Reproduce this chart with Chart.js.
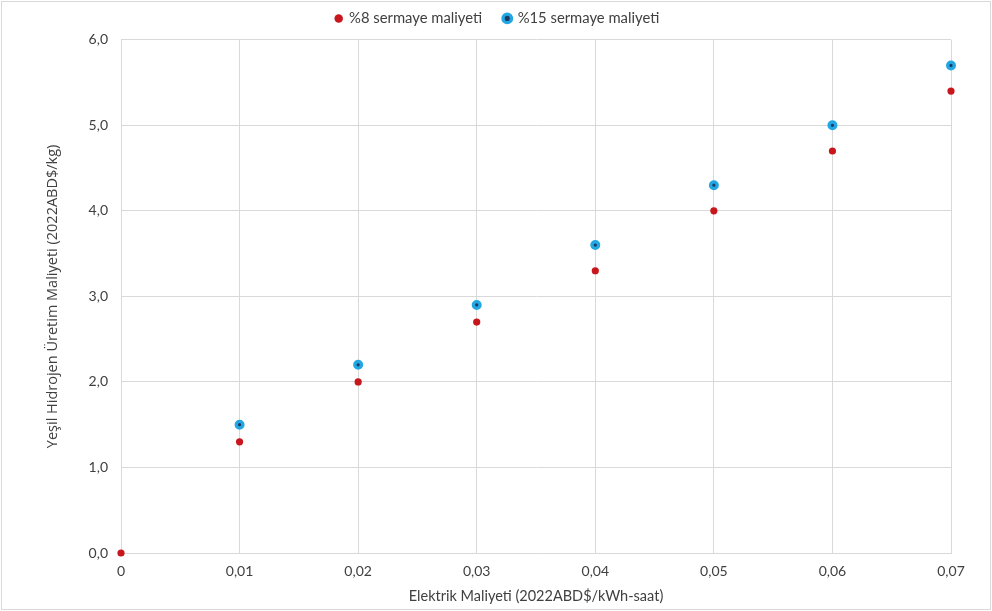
<!DOCTYPE html>
<html>
<head>
<meta charset="utf-8">
<script src="https://cdn.jsdelivr.net/npm/chart.js@4.4.0/dist/chart.umd.min.js"></script>
<style>
html,body{margin:0;padding:0;background:#fff;}
#wrap{width:992px;height:611px;position:relative;}
</style>
</head>
<body>
<div id="wrap"><canvas id="c" width="992" height="611"></canvas></div>
<script>
const xValues = [0, 0.01, 0.02, 0.03, 0.04, 0.05, 0.06, 0.07];
const xTickLabels = ["0", "0,01", "0,02", "0,03", "0,04", "0,05", "0,06", "0,07"];
const series8 = [0, 1.3, 2.0, 2.7, 3.3, 4.0, 4.7, 5.4];
const series15 = [null, 1.5, 2.2, 2.9, 3.6, 4.3, 5.0, 5.7];
const seriesNames = ["%8 sermaye maliyeti", "%15 sermaye maliyeti"];
const yTickLabels = ["0,0", "1,0", "2,0", "3,0", "4,0", "5,0", "6,0"];
const xTitle = "Elektrik Maliyeti (2022ABD$/kWh-saat)";
const yTitle = "Yeşil Hidrojen Üretim Maliyeti (2022ABD$/kg)";

const toPts = (arr) => xValues.map((x, i) => ({x: x, y: arr[i]})).filter(p => p.y !== null);

const frame = {
  id: 'frame',
  afterDraw(chart) {
    const ctx = chart.ctx;
    ctx.save();
    ctx.strokeStyle = '#d9d9d9';
    ctx.lineWidth = 1;
    ctx.strokeRect(1.5, 1.5, 989, 608);
    ctx.restore();
  }
};

const FONT = "Lato, 'Open Sans', sans-serif";
new Chart(document.getElementById('c'), {
  type: 'scatter',
  data: {
    datasets: [
      {
        label: seriesNames[0],
        data: toPts(series8),
        backgroundColor: '#C8161D',
        borderColor: '#C8161D',
        borderWidth: 0,
        pointRadius: 3.6,
        pointHoverRadius: 3.6,
        clip: false
      },
      {
        label: seriesNames[1],
        data: toPts(series15),
        backgroundColor: '#1F3864',
        borderColor: '#22A7E2',
        borderWidth: 3.4,
        pointRadius: 3.3,
        pointHoverRadius: 3.3,
        clip: false
      }
    ]
  },
  plugins: [frame],
  options: {
    responsive: false,
    animation: false,
    layout: {padding: {left: 44, right: 41, top: 0, bottom: 6}},
    plugins: {
      legend: {
        position: 'top',
        labels: {
          usePointStyle: true,
          boxWidth: 6,
          boxHeight: 6,
          padding: 11,
          color: '#404040',
          font: {family: FONT, size: 14.8},
          generateLabels: (chart) => {
            const items = Chart.defaults.plugins.legend.labels.generateLabels(chart);
            items.forEach((it, i) => { if (i < items.length - 1) it.text = it.text + '\u2003'; });
            return items;
          }
        }
      },
      tooltip: {enabled: false}
    },
    scales: {
      x: {
        type: 'linear',
        min: 0, max: 0.07,
        ticks: {
          stepSize: 0.01,
          color: '#404040',
          font: {family: FONT, size: 14},
          padding: 10,
          callback: (v, i) => xTickLabels[i]
        },
        grid: {color: '#d9d9d9', drawTicks: false},
        border: {color: '#d9d9d9'},
        title: {display: true, text: xTitle, color: '#404040', font: {family: FONT, size: 14.5}, padding: {top: 6, bottom: 0}},
        afterFit: (s) => { s.height = 52; }
      },
      xTopSpacer: {
        type: 'linear',
        position: 'top',
        display: true,
        min: 0, max: 1,
        ticks: {display: false},
        grid: {display: false, drawTicks: false},
        border: {display: false},
        afterFit: (s) => { s.height = 4; }
      },
      y: {
        min: 0, max: 6,
        ticks: {
          stepSize: 1,
          color: '#404040',
          font: {family: FONT, size: 14},
          padding: 13,
          callback: (v, i) => yTickLabels[i]
        },
        grid: {color: '#d9d9d9', drawTicks: false},
        border: {color: '#d9d9d9'},
        title: {display: true, text: yTitle, color: '#404040', font: {family: "'Open Sans', sans-serif", size: 14.5}, padding: {top: 0, bottom: 0}},
        afterFit: (s) => { s.width = 77; }
      }
    }
  }
});
</script>
</body>
</html>
